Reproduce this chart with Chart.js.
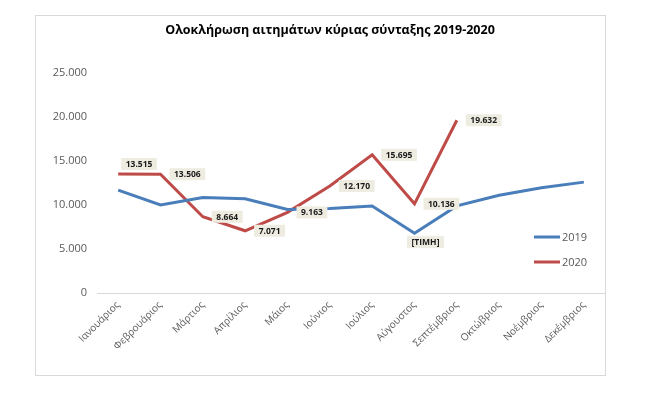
<!DOCTYPE html>
<html><head><meta charset="utf-8">
<script src="https://cdn.jsdelivr.net/npm/chart.js@4"></script>
<style>html,body{margin:0;padding:0;background:#fff;}#wrap{width:651px;height:396px;position:relative;}</style>
</head><body><div id="wrap"><canvas id="c" width="651" height="396"></canvas></div>
<script>
const title = 'Ολοκλήρωση αιτημάτων κύριας σύνταξης 2019-2020';
const months = ['Ιανουάριος','Φεβρουάριος','Μάρτιος','Απρίλιος','Μάιος','Ιούνιος','Ιούλιος','Αύγουστος','Σεπτέμβριος','Οκτώβριος','Νοέμβριος','Δεκέμβριος'];
const series2019 = [11700, 10000, 10850, 10700, 9500, 9600, 9880, 6800, 9900, 11100, 11950, 12600];
const series2020 = [13515, 13506, 8664, 7071, 9163, 12170, 15695, 10136, 19632, null, null, null];
const yTicks = [0, 5000, 10000, 15000, 20000, 25000];
const label2019Index = 7;
const label2019Text = '[ΤΙΜΗ]';

const FONT = "'Open Sans', 'Noto Sans', sans-serif";
function fmtNum(v){ return String(v).replace(/\B(?=(\d{3})+(?!\d))/g,'.'); }

const decorPlugin = {
  id:'decor',
  beforeDraw(chart){
    const ctx = chart.ctx;
    ctx.save();
    ctx.fillStyle='#fff'; ctx.fillRect(0,0,chart.width,chart.height);
    ctx.strokeStyle='#d9d9d9'; ctx.lineWidth=1;
    ctx.strokeRect(35.5,15.5,570,360);
    ctx.fillStyle='#000'; ctx.font="bold 12.5px "+FONT; ctx.textAlign='center'; ctx.textBaseline='middle';
    ctx.fillText(title, 330, 30);
    ctx.restore();
  },
  afterDatasetsDraw(chart){
    const ctx = chart.ctx;
    ctx.save();
    const LF = "bold 8.5px "+FONT;
    ctx.font = LF;
    ctx.textBaseline='middle';
    const drawBox=(txt,cx,cy)=>{
      ctx.font = LF;
      const w = ctx.measureText(txt).width + 9, h = 12;
      ctx.fillStyle='#EEECE1';
      ctx.fillRect(cx-w/2, cy-h/2, w, h);
      ctx.fillStyle='#1a1a1a'; ctx.textAlign='center';
      ctx.fillText(txt,cx,cy+0.5);
    };
    const meta = chart.getDatasetMeta(1);
    meta.data.forEach((p,i)=>{
      const v = series2020[i]; if(v==null) return;
      const w = ctx.measureText(fmtNum(v)).width + 9;
      let cx = p.x + 9 + w/2, cy = p.y;
      if(i===0){ cx = p.x + 3 + w/2; cy = p.y - 10; }
      drawBox(fmtNum(v), cx, cy);
    });
    const m0 = chart.getDatasetMeta(0).data[label2019Index];
    drawBox(label2019Text, m0.x + 11, m0.y + 9);
    // legend
    const items=[['2019','#4A7EBB',237],['2020','#BE4B48',262]];
    ctx.font="11px "+FONT; ctx.textAlign='left';
    items.forEach(([t,c,y])=>{
      ctx.strokeStyle=c; ctx.lineWidth=3; ctx.beginPath(); ctx.moveTo(534,y); ctx.lineTo(560,y); ctx.stroke();
      ctx.fillStyle='#595959'; ctx.fillText(t,562,y+0.5);
    });
    ctx.restore();
  }
};

new Chart(document.getElementById('c'),{
  type:'line',
  data:{labels:months,datasets:[
    {label:'2019',data:series2019,borderColor:'#4A7EBB',borderWidth:3,pointRadius:0,tension:0,fill:false},
    {label:'2020',data:series2020,borderColor:'#BE4B48',borderWidth:3,pointRadius:0,tension:0,fill:false,spanGaps:false}
  ]},
  options:{
    responsive:false,animation:false,
    layout:{padding:{left:37,right:46,top:73,bottom:23}},
    plugins:{legend:{display:false},title:{display:false},tooltip:{enabled:false}},
    scales:{
      x:{offset:true,
        grid:{display:false,drawTicks:false},
        border:{display:true,color:'#d9d9d9',width:1},
        ticks:{maxRotation:45,minRotation:45,autoSkip:false,padding:6,color:'#595959',font:{family:FONT,size:10}},
        afterFit(s){s.height=80;}
      },
      y:{min:0,max:25000,
        grid:{display:false,drawTicks:false},
        border:{display:false},
        afterBuildTicks(s){s.ticks=yTicks.map(v=>({value:v}));},
        ticks:{padding:10,color:'#595959',font:{family:FONT,size:11},callback:v=>fmtNum(v)},
        afterFit(s){s.width=60;}
      }
    }
  },
  plugins:[decorPlugin]
});
</script></body></html>
